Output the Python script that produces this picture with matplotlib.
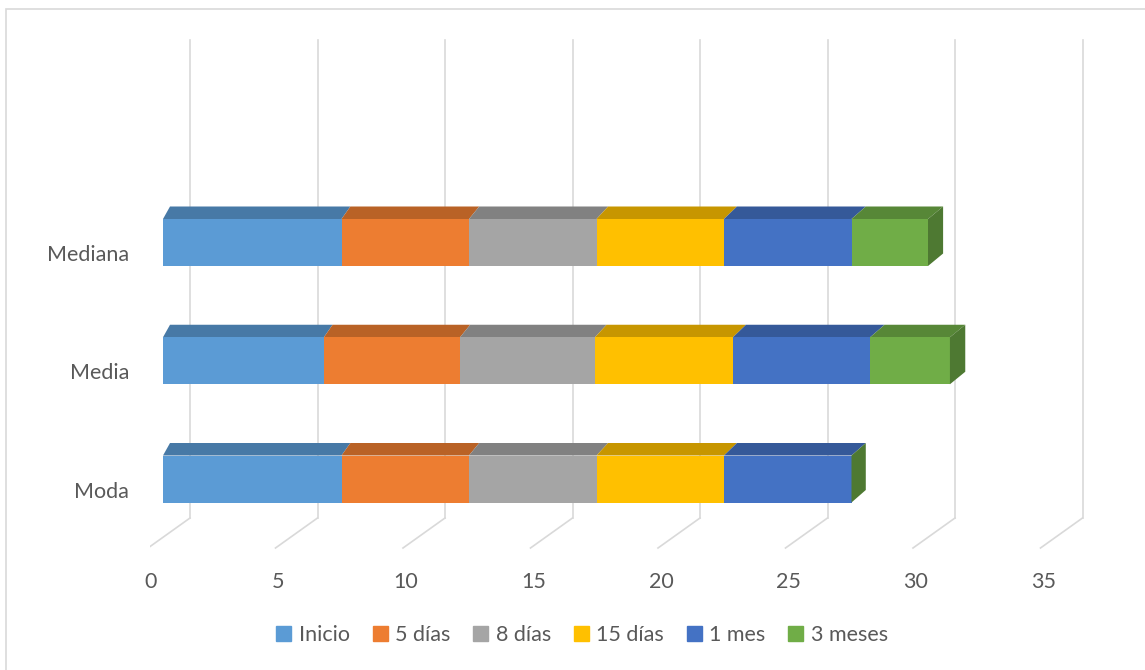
import numpy as np
import matplotlib
matplotlib.use('Agg')
import matplotlib.pyplot as plt
import matplotlib.patches as mpatches
import matplotlib.transforms as mtransforms
from matplotlib.colors import to_rgb

categories = ['Moda', 'Media', 'Mediana']
series = ['Inicio', '5 días', '8 días', '15 días', '1 mes', '3 meses']
inicio = [7, 6.31, 7]
dias5 = [5, 5.34, 5]
dias8 = [5, 5.29, 5]
dias15 = [5, 5.41, 5]
mes1 = [5, 5.38, 5]
meses3 = [0, 3.13, 3]
colors = ['#5B9BD5', '#ED7D31', '#A5A5A5', '#FFC000', '#4472C4', '#70AD47']
xticks = [0, 5, 10, 15, 20, 25, 30, 35]

values = [inicio, dias5, dias8, dias15, mes1, meses3]

plt.rcParams['font.family'] = ['Lato', 'DejaVu Sans']
txt = '#595959'
grid = '#D9D9D9'

W, H = 1145, 670
fig = plt.figure(figsize=(W / 100, H / 100), dpi=100)

# plot area in pixels (from top-left)
L, R, T, B = 150, 1100, 30, 560
ax = fig.add_axes([L / W, 1 - B / H, (R - L) / W, (B - T) / H])
pxu = 25.5        # pixels per value unit
x0 = 163          # pixel of value 0 on bar front plane
pyc = 118.25      # pixels per category
y0 = 479          # pixel of category 0 center
ax.set_xlim((L - x0) / pxu, (R - x0) / pxu)
ax.set_ylim((y0 - B) / pyc, (y0 - T) / pyc)
for s in ax.spines.values():
    s.set_visible(False)
ax.set_facecolor('none')

# depth geometry (data units)
front_dx = -15 / pxu
back_dx = 27 / pxu
front_y = (y0 - 548) / pyc
back_y = (y0 - 518) / pyc
top_y = (y0 - 40) / pyc

for t in xticks:
    ax.plot([t + front_dx, t + back_dx], [front_y, back_y], color=grid, lw=1.2, zorder=1)
    ax.plot([t + back_dx, t + back_dx], [back_y, top_y], color=grid, lw=1.2, zorder=1)

# bars with fake depth
h = 47 / pyc
dy = 12.5 / pyc


def ddx(v):
    return (7 + 0.27 * v) / pxu


def darker(c, f=0.75):
    return tuple(np.array(to_rgb(c)) * f)


ypos = np.arange(len(categories))
left = np.zeros(len(categories))
for k, (vals, col) in enumerate(zip(values, colors)):
    vals = np.array(vals)
    ax.barh(ypos, vals, h, left=left, color=col, zorder=3)
    for c, l, v in zip(ypos, left, vals):
        r = l + v
        top = c + h / 2
        bot = c - h / 2
        ax.add_patch(mpatches.Polygon(
            [(l, top), (r, top), (r + ddx(r), top + dy), (l + ddx(l), top + dy)],
            closed=True, facecolor=darker(col, 0.78), edgecolor='none', zorder=2))
        if k == len(values) - 1:
            ax.add_patch(mpatches.Polygon(
                [(r, bot), (r, top), (r + ddx(r), top + dy), (r + ddx(r), bot + dy)],
                closed=True, facecolor=darker(col, 0.7), edgecolor='none', zorder=4))
    left = left + vals

# ticks
ax.set_xticks(xticks)
ax.set_xticklabels([str(t) for t in xticks])
ax.set_yticks(ypos)
ax.set_yticklabels(categories)
ax.tick_params(axis='both', length=0, colors=txt, labelsize=15.5)
ax.tick_params(axis='x', pad=9)
ax.tick_params(axis='y', pad=15)
offx = mtransforms.ScaledTranslation(-12 / 100, 0, fig.dpi_scale_trans)
for lab in ax.get_xticklabels():
    lab.set_transform(lab.get_transform() + offx)
offy = mtransforms.ScaledTranslation(0, -10.5 / 100, fig.dpi_scale_trans)
for lab in ax.get_yticklabels():
    lab.set_transform(lab.get_transform() + offy)

# legend
handles = [mpatches.Patch(color=c, label=s) for s, c in zip(series, colors)]
leg = fig.legend(handles=handles, loc='center', ncol=6, frameon=False,
                 bbox_to_anchor=(582 / W, 1 - 635 / H), fontsize=15.5,
                 handlelength=0.7, handleheight=0.7, handletextpad=0.35,
                 columnspacing=1.05)
for t in leg.get_texts():
    t.set_color(txt)

# chart frame
fig.add_artist(mpatches.Rectangle((6 / W, -0.1), 1.2, 1.1 - 9 / H,
                                  transform=fig.transFigure, fill=False,
                                  edgecolor='#D9D9D9', lw=1.2))

fig.savefig('out.png', dpi=100)
